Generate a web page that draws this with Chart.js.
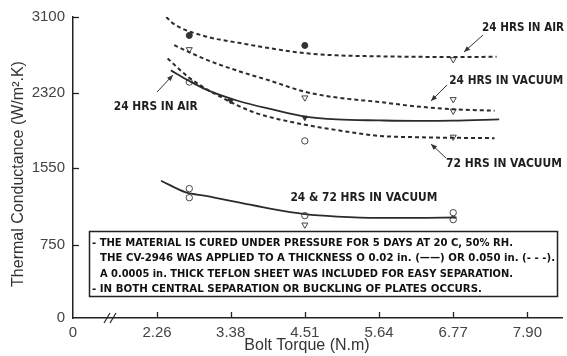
<!DOCTYPE html>
<html>
<head>
<meta charset="utf-8">
<script src="https://cdn.jsdelivr.net/npm/chart.js@4.4.0/dist/chart.umd.min.js"></script>
<style>
  body { margin: 0; background: #fff; }
  canvas { display: block; }
</style>
</head>
<body>
<canvas id="chart" width="567" height="356"></canvas>
<script>
// --- axis setup ---
const X_MIN = 0.979;
const X_MAX = 8.427;
const xTicks = [X_MIN, 2.26, 3.38, 4.51, 5.64, 6.77, 7.90];
const yTicks = [0, 750, 1550, 2320, 3100];

// --- fitted curves ---
const airDashT = [2.40, 2.50, 3.00, 3.50, 4.00, 4.51, 5.00, 5.64, 6.20, 6.77, 7.43];
const airDashV = [3100, 3035, 2900, 2834, 2776, 2728, 2705, 2695, 2690, 2688, 2690];

const vac24DashT = [2.52, 3.00, 3.50, 4.00, 4.51, 5.00, 5.64, 6.20, 6.77, 7.40];
const vac24DashV = [2810, 2663, 2543, 2440, 2330, 2270, 2225, 2180, 2150, 2135];

const vac72DashT = [2.42, 2.75, 3.25, 3.75, 4.35, 5.00, 5.64, 6.20, 6.77, 7.40];
const vac72DashV = [2673, 2474, 2269, 2115, 2012, 1935, 1876, 1862, 1856, 1852];

const airSolidT = [2.47, 2.75, 3.00, 3.50, 4.00, 4.51, 5.00, 5.64, 6.20, 6.77, 7.47];
const airSolidV = [2550, 2441, 2355, 2235, 2150, 2075, 2045, 2035, 2030, 2032, 2045];

const vacSolidT = [2.32, 2.70, 3.00, 3.50, 4.00, 4.51, 5.00, 5.64, 6.20, 6.82];
const vacSolidV = [1414, 1294, 1258, 1191, 1123, 1070, 1045, 1031, 1031, 1035];

// --- measured points ---
const filledCircT = [2.75, 4.51];
const filledCircV = [2910, 2807];

const openTriT = [2.75, 4.51, 6.77, 6.77, 6.77, 6.77, 4.51];
const openTriV = [2766, 2269, 2663, 2132, 2252, 1865, 960];

const openCircT = [2.75, 4.51, 2.75, 2.75, 4.51, 6.77, 6.77];
const openCircV = [2430, 1824, 1332, 1239, 1054, 1085, 1013];

const smallTriT = [3.38, 4.51];
const smallTriV = [2235, 2063];

// --- annotations ---
const labelTexts = ['24 HRS IN AIR', '24 HRS IN VACUUM', '72 HRS IN VACUUM', '24 HRS IN AIR', '24 & 72 HRS IN VACUUM'];
const labelX = [7.21, 6.71, 6.66, 1.60, 4.29];
const labelY = [2985, 2440, 1588, 2173, 1239];

const noteLines = [
  '- THE MATERIAL IS CURED UNDER PRESSURE FOR 5 DAYS AT 20 C, 50% RH.',
  'THE CV-2946 WAS APPLIED TO A THICKNESS O 0.02 in. (\u2014\u2014) OR 0.050 in. (- - -).',
  'A 0.0005 in. THICK TEFLON SHEET WAS INCLUDED FOR EASY SEPARATION.',
  '- IN BOTH CENTRAL SEPARATION OR BUCKLING OF PLATES OCCURS.'
];

const pts = (t, v) => t.map((x, i) => ({ x: x, y: v[i] }));
const INK = '#2b2b2b';

function curve(t, v, dashed) {
  return {
    data: pts(t, v), showLine: true, pointRadius: 0,
    borderColor: INK, borderWidth: dashed ? 2 : 1.8,
    borderDash: dashed ? [4, 3] : [],
    cubicInterpolationMode: 'monotone'
  };
}

// squeeze or stretch a left-aligned string to an exact width
function fitText(c, txt, x, y, w) {
  const natural = c.measureText(txt).width;
  c.save();
  c.translate(x, y);
  c.scale(w / natural, 1);
  c.fillText(txt, 0, 0);
  c.restore();
}

const decor = {
  id: 'decor',
  afterDraw(chart) {
    const c = chart.ctx, xs = chart.scales.x, ys = chart.scales.y, a = chart.chartArea;
    c.save();
    c.strokeStyle = '#222';
    c.lineWidth = 1.3;
    // tick marks inside the axes
    xTicks.slice(1).forEach(v => {
      const px = Math.round(xs.getPixelForValue(v)) + 0.5;
      c.beginPath(); c.moveTo(px, a.bottom); c.lineTo(px, a.bottom - 6); c.stroke();
    });
    yTicks.slice(1).forEach(v => {
      const py = Math.round(ys.getPixelForValue(v)) + 0.5;
      c.beginPath(); c.moveTo(a.left, py); c.lineTo(a.left + 6, py); c.stroke();
    });
    // axis break
    c.lineWidth = 1.2;
    [104, 110].forEach(bx => {
      c.beginPath(); c.moveTo(bx, a.bottom + 5); c.lineTo(bx + 6, a.bottom - 5); c.stroke();
    });

    // curve labels
    c.fillStyle = '#1e1e1e';
    c.font = 'bold 12px "DejaVu Sans", sans-serif';
    c.textBaseline = 'middle';
    c.textAlign = 'left';
    const widths = [82, 114, 116, 84, 147];
    labelTexts.forEach((txt, i) => {
      fitText(c, txt, xs.getPixelForValue(labelX[i]), ys.getPixelForValue(labelY[i]), widths[i]);
    });

    // arrows (pixel layout)
    const arrows = [[483, 35, 464, 52], [447, 85, 431, 101], [446, 158, 431, 144], [157, 92, 173, 75]];
    c.strokeStyle = '#333'; c.fillStyle = '#333'; c.lineWidth = 1;
    arrows.forEach(([x1, y1, x2, y2]) => {
      const ang = Math.atan2(y2 - y1, x2 - x1);
      c.beginPath(); c.moveTo(x1, y1); c.lineTo(x2, y2); c.stroke();
      c.beginPath();
      c.moveTo(x2, y2);
      c.lineTo(x2 - 6 * Math.cos(ang) + 2.5 * Math.sin(ang), y2 - 6 * Math.sin(ang) - 2.5 * Math.cos(ang));
      c.lineTo(x2 - 6 * Math.cos(ang) - 2.5 * Math.sin(ang), y2 - 6 * Math.sin(ang) + 2.5 * Math.cos(ang));
      c.closePath(); c.fill();
    });

    // note box
    c.fillStyle = '#fff';
    c.fillRect(89, 231, 469, 66);
    c.strokeStyle = '#222'; c.lineWidth = 1.5;
    c.strokeRect(89.5, 231.5, 468, 65);
    c.fillStyle = '#111';
    c.font = 'bold 11px "DejaVu Sans", sans-serif';
    const noteX = [92, 100, 100, 92];
    const noteY = [243, 258.5, 274, 289.5];
    const noteW = [421, 455, 413, 390];
    noteLines.forEach((ln, i) => fitText(c, ln, noteX[i], noteY[i], noteW[i]));

    // axis titles
    c.fillStyle = '#333';
    c.font = '16px "Liberation Sans", Arial, sans-serif';
    c.textAlign = 'center';
    c.fillText('Bolt Torque (N.m)', 307, 346);
    c.translate(19, 174);
    c.rotate(-Math.PI / 2);
    c.fillText('Thermal Conductance (W/m\u00B2.K)', 0, 0);
    c.restore();
  }
};

new Chart(document.getElementById('chart'), {
  type: 'scatter',
  data: {
    datasets: [
      curve(airDashT, airDashV, true),
      curve(vac24DashT, vac24DashV, true),
      curve(vac72DashT, vac72DashV, true),
      curve(airSolidT, airSolidV, false),
      curve(vacSolidT, vacSolidV, false),
      { data: pts(filledCircT, filledCircV), pointStyle: 'circle', pointRadius: 3, backgroundColor: '#333', borderColor: '#333', borderWidth: 1 },
      { data: pts(openTriT, openTriV), pointStyle: 'triangle', rotation: 180, pointRadius: 3.5, backgroundColor: '#fff', borderColor: '#444', borderWidth: 1 },
      { data: pts(openCircT, openCircV), pointStyle: 'circle', pointRadius: 3.2, backgroundColor: '#fff', borderColor: '#444', borderWidth: 1 },
      { data: pts(smallTriT, smallTriV), pointStyle: 'triangle', rotation: 180, pointRadius: 3, backgroundColor: '#333', borderColor: '#333', borderWidth: 1 }
    ]
  },
  options: {
    responsive: false,
    animation: false,
    layout: { padding: { top: 16, right: 0, left: 0, bottom: 0 } },
    plugins: { legend: { display: false }, tooltip: { enabled: false } },
    scales: {
      x: {
        type: 'linear', min: X_MIN, max: X_MAX,
        afterBuildTicks: s => { s.ticks = xTicks.map(v => ({ value: v })); },
        afterFit: s => { s.height = 38; },
        ticks: {
          autoSkip: false, maxRotation: 0, padding: 6, color: '#444',
          font: { family: '"Liberation Sans", Arial, sans-serif', size: 15 },
          callback: v => (v === X_MIN ? '0' : v.toFixed(2))
        },
        grid: { display: false, drawTicks: false },
        border: { display: true, color: '#222', width: 1.5 }
      },
      y: {
        type: 'linear', min: 0, max: 3100,
        afterBuildTicks: s => { s.ticks = yTicks.map(v => ({ value: v })); },
        afterFit: s => { s.width = 73; },
        ticks: {
          padding: 8, color: '#444',
          font: { family: '"Liberation Sans", Arial, sans-serif', size: 15 },
          callback: v => String(v)
        },
        grid: { display: false, drawTicks: false },
        border: { display: true, color: '#222', width: 1.5 }
      }
    }
  },
  plugins: [decor]
});
</script>
</body>
</html>
